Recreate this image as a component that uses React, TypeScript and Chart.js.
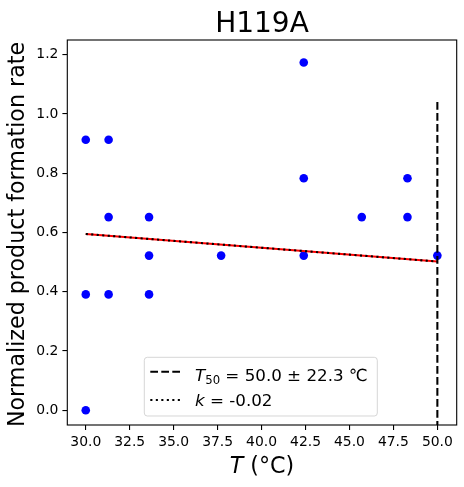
import { Chart, ChartConfiguration, Plugin, registerables } from "chart.js";
import { useEffect, useRef } from "react";

Chart.register(...registerables);

// measured data
const tempX = [30, 30, 30, 31.3, 31.3, 31.3, 33.6, 33.6, 33.6, 37.7, 42.4, 42.4, 42.4, 45.7, 48.3, 48.3, 50];
const rateY = [0.913, 0.391, 0, 0.913, 0.652, 0.391, 0.652, 0.522, 0.391, 0.522, 1.174, 0.783, 0.522, 0.652, 0.783, 0.652, 0.522];

const fitX = [30, 50];
const fitY = [0.595, 0.502];

const t50X = [50, 50];
const t50Y = [-0.1, 1.05];

const xTicks = [30, 32.5, 35, 37.5, 40, 42.5, 45, 47.5, 50];
const yTicks = [0, 0.2, 0.4, 0.6, 0.8, 1.0, 1.2];

const titleText = "H119A";
const yLabel = "Normalized product formation rate";
const t50Label = { sub: "50", rest: " = 50.0 ± 22.3 ℃" };
const kLabel = " = -0.02";

const FONT = "'DejaVu Sans', sans-serif";

type Run = { text: string; font: string; dy?: number };

function drawRuns(ctx: CanvasRenderingContext2D, runs: Run[], x: number, y: number, align: "left" | "center") {
  let total = 0;
  for (const r of runs) {
    ctx.font = r.font;
    total += ctx.measureText(r.text).width;
  }
  let cx = align === "center" ? x - total / 2 : x;
  ctx.textAlign = "left";
  ctx.textBaseline = "alphabetic";
  for (const r of runs) {
    ctx.font = r.font;
    ctx.fillText(r.text, cx, y + (r.dy || 0));
    cx += ctx.measureText(r.text).width;
  }
}

const decorPlugin: Plugin<"scatter"> = {
  id: "decor",
  afterDraw(chart) {
    const { ctx, chartArea } = chart;
    const { left, right, top, bottom } = chartArea;
    ctx.save();
    ctx.fillStyle = "#000";

    // frame
    ctx.strokeStyle = "#000";
    ctx.lineWidth = 1.1;
    ctx.setLineDash([]);
    ctx.strokeRect(left, top, right - left, bottom - top);

    // title
    drawRuns(ctx, [{ text: titleText, font: `28px ${FONT}` }], (left + right) / 2, 32.3, "center");

    // x label
    drawRuns(
      ctx,
      [
        { text: "T", font: `italic 22.2px ${FONT}` },
        { text: " (°C)", font: `22.2px ${FONT}` },
      ],
      (left + right) / 2,
      473,
      "center"
    );

    // y label
    ctx.save();
    ctx.translate(24, (top + bottom) / 2 + 2);
    ctx.rotate(-Math.PI / 2);
    drawRuns(ctx, [{ text: yLabel, font: `22.2px ${FONT}` }], 0, 0, "center");
    ctx.restore();

    // legend
    const lx = 144.3;
    const ly = 357.3;
    const lw = 233;
    const lh = 58.7;
    ctx.beginPath();
    ctx.roundRect(lx, ly, lw, lh, 3);
    ctx.fillStyle = "rgba(255,255,255,0.8)";
    ctx.fill();
    ctx.strokeStyle = "rgba(204,204,204,0.8)";
    ctx.lineWidth = 1;
    ctx.stroke();

    ctx.strokeStyle = "#000";
    ctx.lineWidth = 2.08;
    ctx.setLineDash([7.7, 3.3]);
    ctx.beginPath();
    ctx.moveTo(150.3, 371.7);
    ctx.lineTo(181, 371.7);
    ctx.stroke();
    ctx.setLineDash([2.1, 3.4]);
    ctx.beginPath();
    ctx.moveTo(150.3, 400);
    ctx.lineTo(181, 400);
    ctx.stroke();
    ctx.setLineDash([]);

    ctx.fillStyle = "#000";
    drawRuns(
      ctx,
      [
        { text: "T", font: `italic 16.7px ${FONT}` },
        { text: t50Label.sub, font: `11.7px ${FONT}`, dy: 2.5 },
        { text: t50Label.rest, font: `16.7px ${FONT}` },
      ],
      195,
      381,
      "left"
    );
    drawRuns(
      ctx,
      [
        { text: "k", font: `italic 16.7px ${FONT}` },
        { text: kLabel, font: `16.7px ${FONT}` },
      ],
      195,
      405.7,
      "left"
    );
    ctx.restore();
  },
};

export default function App() {
  const chartRef = useRef<HTMLCanvasElement | null>(null);

  useEffect(() => {
    document.body.style.margin = "0";
    if (!chartRef.current) return;

    const tickFont = { family: FONT, size: 13.9 };

    const config: ChartConfiguration<"scatter"> = {
      type: "scatter",
      data: {
        datasets: [
          {
            label: "T50",
            data: t50X.map((x, i) => ({ x, y: t50Y[i] })),
            showLine: true,
            borderColor: "#000",
            borderWidth: 2.08,
            borderDash: [7.7, 3.3],
            pointRadius: 0,
            clip: 0,
            order: 1,
          },
          {
            label: "k",
            data: fitX.map((x, i) => ({ x, y: fitY[i] })),
            showLine: true,
            borderColor: "#000",
            borderWidth: 2.08,
            borderDash: [2.1, 3.4],
            pointRadius: 0,
            order: 2,
          },
          {
            label: "fit",
            data: fitX.map((x, i) => ({ x, y: fitY[i] })),
            showLine: true,
            borderColor: "#ff0000",
            borderWidth: 2.08,
            pointRadius: 0,
            order: 3,
          },
          {
            label: "data",
            data: tempX.map((x, i) => ({ x, y: rateY[i] })),
            backgroundColor: "#0000ff",
            borderWidth: 0,
            pointRadius: 4.3,
            order: 4,
          },
        ],
      },
      options: {
        responsive: true,
        maintainAspectRatio: false,
        animation: false,
        layout: { padding: { top: 40, right: 7.3, left: 0, bottom: 0 } },
        plugins: {
          legend: { display: false },
          title: { display: false },
          tooltip: { enabled: false },
        },
        scales: {
          x: {
            type: "linear",
            min: 28.95,
            max: 51.1,
            afterBuildTicks: (scale) => {
              scale.ticks = xTicks.map((value) => ({ value }));
            },
            afterFit: (scale) => {
              scale.height = 62;
            },
            ticks: {
              font: tickFont,
              color: "#000",
              padding: 4,
              maxRotation: 0,
              autoSkip: false,
              callback: (v) => Number(v).toFixed(1),
            },
            grid: {
              drawOnChartArea: false,
              drawTicks: true,
              tickLength: 4.9,
              color: "#000",
              lineWidth: 1.1,
            },
            border: { display: false },
          },
          y: {
            type: "linear",
            min: -0.05,
            max: 1.25,
            afterBuildTicks: (scale) => {
              scale.ticks = yTicks.map((value) => ({ value }));
            },
            afterFit: (scale) => {
              scale.width = 67.3;
            },
            ticks: {
              font: tickFont,
              color: "#000",
              padding: 4,
              autoSkip: false,
              callback: (v) => Number(v).toFixed(1),
            },
            grid: {
              drawOnChartArea: false,
              drawTicks: true,
              tickLength: 4.9,
              color: "#000",
              lineWidth: 1.1,
            },
            border: { display: false },
          },
        },
      },
      plugins: [decorPlugin],
    };

    const chart = new Chart(chartRef.current, config);
    return () => {
      chart.destroy();
    };
  }, []);

  return (
    <div style={{ width: 464, height: 487, position: "relative" }}>
      <canvas ref={chartRef} />
    </div>
  );
}
